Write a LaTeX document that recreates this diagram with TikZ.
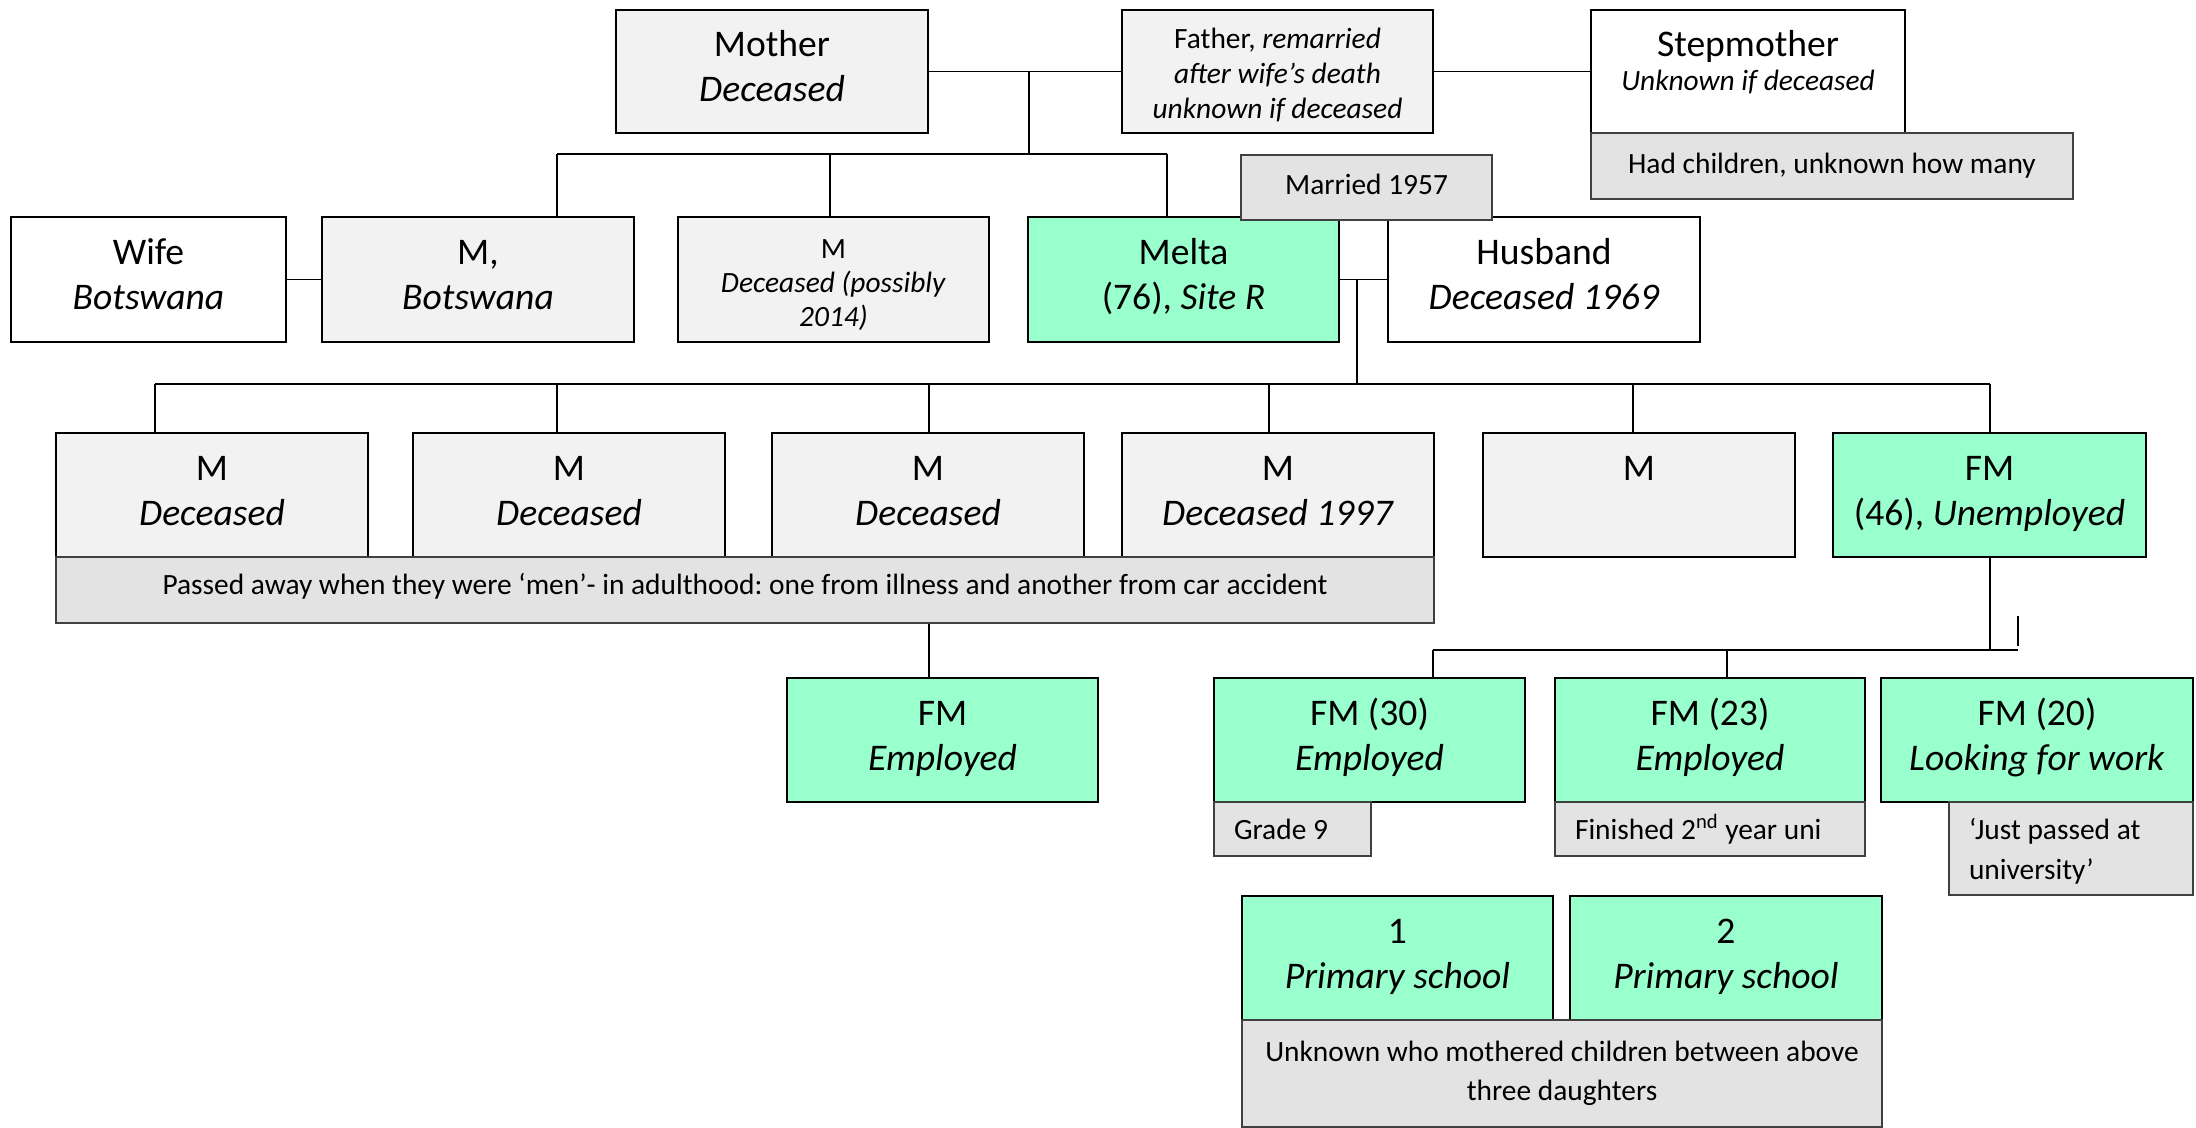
\documentclass[tikz,border=0pt]{standalone}
\usepackage{fontspec}
\setmainfont{Carlito}
\frenchspacing
\definecolor{mint}{HTML}{99FFCC}
\definecolor{paleg}{HTML}{F2F2F2}
\definecolor{notefill}{HTML}{E3E3E3}
\newcommand{\bigtxt}{\fontsize{18.8}{22.5}\selectfont}
\newcommand{\smalltxt}{\fontsize{14.7}{17.5}\selectfont}
% invisible struts: fixed line height / depth
\newcommand{\hS}[1]{\rule{0pt}{#1}}
\newcommand{\dS}[1]{\rule[-#1]{0pt}{#1}}
% two-line person label: name line, status line
\newcommand{\two}[2]{\hS{13.5pt}#1\\#2\dS{6pt}}
\tikzset{
  sz/.style 2 args={minimum width=#1*0.5pt, minimum height=#2*0.5pt},
  person/.style={draw=black, line width=1pt, inner sep=0pt, align=center, font=\bigtxt},
  wbox/.style={person, fill=white},
  gbox/.style={person, fill=paleg},
  fbox/.style={person, fill=mint},
  note/.style={draw=black!75, line width=0.8pt, fill=notefill, inner sep=0pt, align=center, font=\smalltxt},
  lnote/.style={note, align=flush left, inner xsep=10pt},
  link/.style={draw=black, line width=0.9pt},
}
\begin{document}
\begin{tikzpicture}[x=0.5pt, y=-0.5pt]
\useasboundingbox (0,0) rectangle (2196,1128);

% ---- parents' generation
\node[gbox, sz={312}{123}] (mother) at (772,71.5) {\two{Mother}{\textit{Deceased}}};
\node[gbox, sz={311}{123}, font=\smalltxt] (father) at (1277.5,71.5)
  {\hS{13.5pt}Father, \textit{remarried}\\\textit{after wife’s death}\\\textit{unknown if deceased}};
\node[wbox, sz={314}{123}] (stepm) at (1748,71.5)
  {\hS{14.5pt}Stepmother\\[-5.5pt]{\smalltxt\textit{Unknown if deceased}}\dS{12pt}};
\node[note, sz={482}{66}] (hadch) at (1832,166) {Had children, unknown how many};

% ---- Melta's generation
\node[wbox, sz={275}{125}] (wife) at (148.5,279.5) {\two{Wife}{\textit{Botswana}}};
\node[gbox, sz={312}{125}] (mbots) at (478,279.5) {\two{M,}{\textit{Botswana}}};
\node[gbox, sz={311}{125}, font=\fontsize{14.7}{17}\selectfont] (mdec) at (833.5,279.5)
  {\hS{15pt}M\\\textit{Deceased (possibly}\\\textit{2014)}};
\node[fbox, sz={311}{125}] (melta) at (1183.5,279.5) {\two{Melta}{(76), \textit{Site R}}};
\node[wbox, sz={312}{125}] (husband) at (1544,279.5) {\two{Husband}{\textit{Deceased 1969}}};
\node[note, sz={251}{65}] (married) at (1366.5,187.5) {Married 1957\dS{3pt}};

% ---- Melta's children
\node[gbox, sz={312}{124}] (s1) at (212,495) {\two{M}{\textit{Deceased}}};
\node[gbox, sz={312}{124}] (s2) at (569,495) {\two{M}{\textit{Deceased}}};
\node[gbox, sz={312}{124}] (s3) at (928,495) {\two{M}{\textit{Deceased}}};
\node[gbox, sz={312}{124}] (s4) at (1278,495) {\two{M}{\textit{Deceased 1997}}};
\node[gbox, sz={312}{124}] (s5) at (1639,495) {\two{M}{\mbox{}}};
\node[fbox, sz={313}{124}] (d46) at (1989.5,495) {\two{FM}{(46), \textit{Unemployed}}};
\node[note, sz={1378}{66}] (passed) at (745,590)
  {Passed away when they were ‘men’- in adulthood: one from illness and another from car accident\dS{6pt}};

% ---- grandchildren
\node[fbox, sz={311}{124}] (fmemp) at (942.5,740) {\two{FM}{\textit{Employed}}};
\node[fbox, sz={311}{124}] (f30) at (1369.5,740) {\two{FM (30)}{\textit{Employed}}};
\node[fbox, sz={310}{124}] (f23) at (1710,740) {\two{FM (23)}{\textit{Employed}}};
\node[fbox, sz={312}{124}] (f20) at (2037,740) {\two{FM (20)}{\textit{Looking for work}}};
\node[lnote, sz={157}{54}, text width=58.5pt] (grade9) at (1292.5,829) {Grade 9};
\node[lnote, sz={310}{54}, text width=135pt, inner xsep=10pt] (fin2) at (1710,829) {Finished 2\textsuperscript{nd} year uni};
\node[lnote, sz={244}{93}, text width=102pt, font=\fontsize{14.7}{20}\selectfont] (justp) at (2071,848.5)
  {\hS{13pt}‘Just passed at\\university’};

% ---- great-grandchildren
\node[fbox, sz={311}{124}] (c1) at (1397.5,958) {\two{1}{\textit{Primary school}}};
\node[fbox, sz={312}{124}] (c2) at (1726,958) {\two{2}{\textit{Primary school}}};
\node[note, sz={640}{107}, font=\fontsize{14.7}{19.5}\selectfont] (unk) at (1562,1073.5)
  {Unknown who mothered children between above\\three daughters};

% ---- connectors: parents
\draw[link] (mother.east) -- (father.west);
\draw[link] (father.east) -- (stepm.west);
\coordinate (sibM) at (1029,154);
\coordinate (sibL) at (557,154);
\coordinate (sibC) at (830,154);
\coordinate (sibR) at (1167,154);
\draw[link] (sibM |- mother.east) -- (sibM);
\draw[link] (sibL) -- (sibR);
\draw[link] (sibL) -- (sibL |- mbots.north);
\draw[link] (sibC) -- (sibC |- mdec.north);
\draw[link] (sibR) -- (sibR |- melta.north);

% ---- connectors: couples
\draw[link] (wife.east) -- (mbots.west);
\draw[link] (melta.east) -- (husband.west);
\coordinate (mh) at (1357,279.5);
\coordinate (kidM) at (1357,384);
\draw[link] (mh) -- (kidM);

% ---- connectors: Melta's children
\coordinate (k1) at (155,384);
\coordinate (k2) at (557,384);
\coordinate (k3) at (929,384);
\coordinate (k4) at (1269,384);
\coordinate (k5) at (1633,384);
\coordinate (k6) at (1990,384);
\draw[link] (k1) -- (k6);
\draw[link] (k1) -- (k1 |- s1.north);
\draw[link] (k2) -- (k2 |- s2.north);
\draw[link] (k3) -- (k3 |- s3.north);
\draw[link] (k4) -- (k4 |- s4.north);
\draw[link] (k5) -- (k5 |- s5.north);
\draw[link] (k6) -- (k6 |- d46.north);

% ---- connectors: grandchildren
\coordinate (pX) at (929,623);
\draw[link] (pX |- passed.south) -- (pX |- fmemp.north);
\coordinate (gR) at (1990,650);
\coordinate (gL) at (1433,650);
\coordinate (gC) at (1727,650);
\coordinate (gE) at (2018,650);
\draw[link] (gR |- d46.south) -- (gR);
\draw[link] (gL) -- (gE);
\draw[link] (gL) -- (gL |- f30.north);
\draw[link] (gC) -- (gC |- f23.north);
\coordinate (stubT) at (2018,616);
\coordinate (stubB) at (2018,646);
\draw[link] (stubT) -- (stubB);
\end{tikzpicture}
\end{document}
